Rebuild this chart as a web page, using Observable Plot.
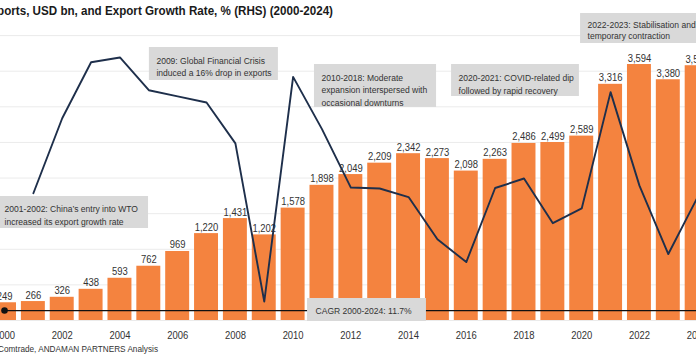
<!DOCTYPE html>
<html><head><meta charset="utf-8">
<script src="https://cdn.jsdelivr.net/npm/d3@7"></script>
<script src="https://cdn.jsdelivr.net/npm/@observablehq/plot@0.6"></script>
<style>
body{margin:0;background:#fff;font-family:"Liberation Sans",Arial,sans-serif;}
#wrap{position:relative;width:696px;height:360px;overflow:hidden;background:#fff;}
#chart{position:absolute;left:0;top:0;}
#title{position:absolute;left:0;top:0;width:333px;height:22px;line-height:22px;display:flex;justify-content:flex-end;white-space:nowrap;font-weight:bold;font-size:12.5px;color:#1a1a1a;transform:scaleX(0.93);transform-origin:right center;}
#caption{position:absolute;left:0;top:340px;width:158px;height:18px;line-height:18px;display:flex;justify-content:flex-end;white-space:nowrap;font-size:9.5px;color:#333;transform:scaleX(0.865);transform-origin:right center;}
</style></head>
<body>
<div id="wrap">
  <div id="chart"></div>
  <div id="title"><span>China's Exports, USD bn, and Export Growth Rate, % (RHS) (2000-2024)</span></div>
  <div id="caption"><span>Source: UN Comtrade, ANDAMAN PARTNERS Analysis</span></div>
</div>
<script>
// ---- data ----
const years = [2000,2001,2002,2003,2004,2005,2006,2007,2008,2009,2010,2011,2012,2013,2014,2015,2016,2017,2018,2019,2020,2021,2022,2023,2024];
const exportsBn = [249,266,326,438,593,762,969,1220,1431,1202,1578,1898,2049,2209,2342,2273,2098,2263,2486,2499,2589,3316,3594,3380,3577];
const growthPct = [null,6.8,22.6,34.4,35.4,28.5,27.2,25.9,17.3,-16.0,31.3,20.3,8.0,7.8,6.0,-2.9,-7.7,7.9,9.9,0.5,3.6,28.1,8.4,-6.0,5.8];
const tickYears = [2000,2002,2004,2006,2008,2010,2012,2014,2016,2018,2020,2022,2024];
const gridValues = [0,500,1000,1500,2000,2500,3000,3500,4000];
const rhsDomain = [-20, 40];   // right-hand axis (%), aligned with left 0..4000
const cagrText = "CAGR 2000-2024: 11.7%";
const annotationTexts = [
  "2001-2002: China\u2019s entry into WTO\nincreased its export growth rate",
  "2009: Global Financial Crisis\ninduced a 16% drop in exports",
  "2010-2018: Moderate\nexpansion interspersed with\noccasional downturns",
  "2020-2021: COVID-related dip\nfollowed by rapid recovery",
  "2022-2023: Stabilisation and\ntemporary contraction"
];

const data = years.map((year, i) => ({year, exports: exportsBn[i], growth: growthPct[i]}));
const rhs = d3.scaleLinear().domain(rhsDomain).range([0, 4000]);

// annotation layout (in data units of the chart scales)
const annLayout = [
  {x1: 1999.76, x2: 2004.99, y1: 1292, y2: 1741, lh: 1.3},
  {x1: 2005.02, x2: 2009.49, y1: 3370, y2: 3833, lh: 1.34},
  {x1: 2010.74, x2: 2014.97, y1: 2991, y2: 3594, lh: 1.34},
  {x1: 2015.49, x2: 2019.92, y1: 3145, y2: 3594, lh: 1.38},
  {x1: 2019.96, x2: 2024.8, y1: 3889, y2: 4310, lh: 1.14}
];
const annotations = annotationTexts.map((text, i) => ({text, ...annLayout[i]}));
const cagrLevel = 140;
const cagrBox = [{x1: 2010.5, x2: 2014.62, y1: -14, y2: 309, label: cagrText, level: cagrLevel}];

const orange = "#F4833F";
const navy = "#1E2F4B";

const chart = Plot.plot({
  width: 696,
  height: 340,
  marginTop: 0, marginBottom: 20, marginLeft: 0, marginRight: 0,
  style: {fontFamily: "'Liberation Sans', Arial, sans-serif", background: "transparent"},
  x: {domain: [1999.861, 2023.977], axis: null},
  y: {domain: [0, 4000], range: [320, 35.1], axis: null},
  marks: [
    Plot.ruleY(gridValues, {stroke: "#EBEBEB", strokeWidth: 1}),
    Plot.rectY(data, {x1: d => d.year - 0.415, x2: d => d.year + 0.415, y: "exports", fill: orange}),
    Plot.text(data, {x: "year", y: "exports", text: d => d3.format(",")(d.exports), dy: -3, lineAnchor: "bottom", fontSize: 10.5, fill: "#333"}),
    Plot.line(data.filter(d => d.growth != null), {x: "year", y: d => rhs(d.growth), stroke: navy, strokeWidth: 1.9}),
    Plot.rect(annotations, {x1: "x1", x2: "x2", y1: "y1", y2: "y2", fill: "#D9D9D9"}),
    ...annotations.map(a => Plot.text([a], {x: "x1", y: "y2", text: "text", textAnchor: "start", lineAnchor: "top", lineHeight: a.lh, dx: 7, dy: 7, fontSize: 9.5, fill: "#333"})),
    Plot.link([{a: 2000, b: 2024.3, level: cagrLevel}], {x1: "a", x2: "b", y1: "level", y2: "level", stroke: "#111", strokeWidth: 1.2, markerEnd: "arrow"}),
    Plot.dot([{year: 2000, level: cagrLevel}], {x: "year", y: "level", r: 3.3, fill: "#111"}),
    Plot.rect(cagrBox, {x1: "x1", x2: "x2", y1: "y1", y2: "y2", fill: "#D9D9D9"}),
    Plot.text(cagrBox, {x: "x1", y: "level", text: "label", textAnchor: "start", lineAnchor: "middle", dx: 8, fontSize: 9.5, fill: "#333"}),
    Plot.axisX(tickYears, {tickSize: 0, tickPadding: 11, tickFormat: d => String(d), fontSize: 10.5, fill: "#333"})
  ]
});

document.getElementById("chart").appendChild(chart);

// horizontally condense all chart text slightly (about each text's own anchor), to match the reference typography
const S = 0.9;
chart.querySelectorAll("text").forEach(t => {
  const bb = t.getBBox();
  const anchor = getComputedStyle(t).textAnchor;
  const cx = anchor === "middle" ? bb.x + bb.width / 2 : anchor === "end" ? bb.x + bb.width : bb.x;
  const tr = t.getAttribute("transform") || "";
  t.setAttribute("transform", `${tr} translate(${cx},0) scale(${S},1) translate(${-cx},0)`);
});
</script>
</body></html>
